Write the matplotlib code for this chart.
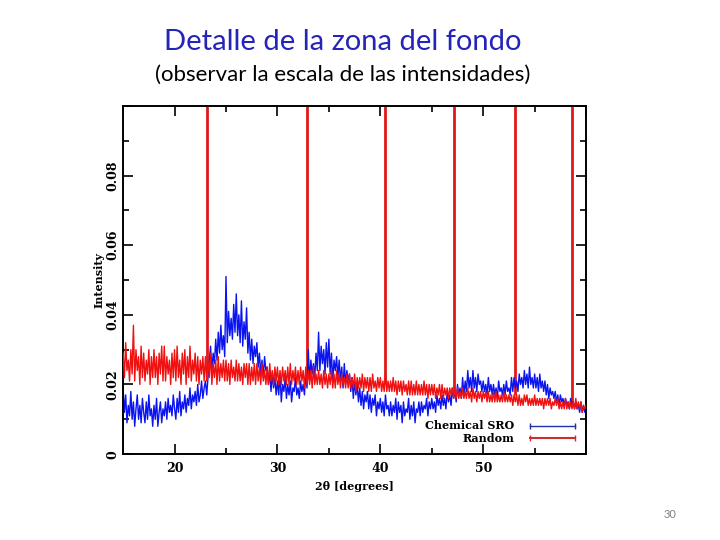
import numpy as np
import matplotlib

matplotlib.use("Agg")
import matplotlib.pyplot as plt
from matplotlib.lines import Line2D
from matplotlib.ticker import MultipleLocator

BLUE = "#0a14f0"
RED = "#f01010"
PEAK_RED = "#e01818"

# 2-theta grid, 0.125 degree steps from 15 to 60
two_theta = np.arange(15.0, 60.001, 0.125)

# intensities, in units of 1e-3 (8 values per degree)
chem_sro_milli = [
    19, 12, 17, 9, 14, 11, 18, 10,    # 15
    15, 8, 13, 17, 10, 14, 9, 16,     # 16
    12, 9, 15, 10, 17, 11, 13, 8,     # 17
    14, 10, 16, 8, 12, 15, 9, 13,     # 18
    11, 15, 10, 16, 12, 14, 11, 17,   # 19
    13, 10, 16, 12, 18, 11, 15, 13,   # 20
    17, 12, 16, 14, 19, 13, 17, 15,   # 21
    18, 14, 20, 15, 17, 21, 16, 19,   # 22
    21, 17, 22, 27, 31, 24, 29, 26,   # 23
    33, 27, 35, 29, 37, 30, 34, 28,   # 24
    51, 32, 41, 34, 39, 33, 43, 35,   # 25
    46, 34, 40, 32, 44, 31, 38, 33,   # 26
    42, 29, 35, 27, 33, 26, 31, 28,   # 27
    32, 25, 29, 23, 27, 22, 28, 24,   # 28
    25, 20, 24, 18, 23, 19, 22, 17,   # 29
    21, 17, 23, 15, 20, 18, 22, 16,   # 30
    20, 17, 21, 15, 19, 18, 22, 17,   # 31
    19, 16, 21, 18, 20, 17, 23, 19,   # 32
    30, 21, 27, 23, 26, 22, 29, 24,   # 33
    35, 24, 31, 26, 30, 23, 32, 25,   # 34
    33, 23, 29, 21, 27, 24, 28, 22,   # 35
    27, 21, 25, 19, 26, 20, 24, 21,   # 36
    23, 18, 22, 16, 21, 17, 20, 15,   # 37
    19, 14, 18, 13, 17, 15, 18, 13,   # 38
    17, 12, 16, 14, 17, 11, 15, 13,   # 39
    16, 12, 15, 11, 17, 13, 14, 11,   # 40
    15, 11, 14, 12, 16, 10, 15, 12,   # 41
    14, 9, 15, 11, 13, 12, 16, 10,    # 42
    14, 11, 15, 9, 13, 12, 15, 11,    # 43
    15, 12, 14, 13, 16, 11, 15, 13,   # 44
    16, 13, 15, 12, 17, 14, 16, 13,   # 45
    17, 14, 16, 13, 18, 15, 17, 14,   # 46
    19, 16, 18, 15, 20, 17, 19, 16,   # 47
    22, 17, 21, 18, 24, 19, 22, 18,   # 48
    24, 19, 22, 18, 23, 20, 21, 18,   # 49
    21, 18, 20, 17, 22, 18, 20, 17,   # 50
    20, 17, 19, 16, 21, 18, 19, 17,   # 51
    20, 17, 21, 18, 19, 17, 22, 18,   # 52
    22, 19, 21, 18, 23, 20, 22, 19,   # 53
    24, 20, 23, 19, 25, 20, 22, 19,   # 54
    23, 19, 22, 18, 23, 19, 21, 18,   # 55
    21, 17, 20, 16, 19, 17, 18, 16,   # 56
    18, 15, 17, 14, 17, 15, 16, 14,   # 57
    16, 14, 15, 13, 16, 14, 15, 13,   # 58
    15, 13, 14, 12, 15, 12, 14, 12,   # 59
    13,
]
random_milli = [
    29, 22, 32, 24, 27, 21, 30, 23,   # 15
    37, 21, 30, 24, 28, 20, 31, 22,   # 16
    29, 21, 27, 23, 30, 20, 28, 22,   # 17
    30, 22, 28, 20, 29, 23, 31, 21,   # 18
    31, 21, 28, 23, 27, 20, 29, 22,   # 19
    30, 21, 31, 22, 27, 20, 29, 23,   # 20
    30, 20, 28, 22, 31, 21, 27, 23,   # 21
    29, 21, 28, 20, 27, 23, 28, 21,   # 22
    28, 21, 27, 22, 29, 20, 26, 22,   # 23
    27, 20, 28, 21, 26, 22, 27, 21,   # 24
    27, 21, 26, 20, 27, 22, 25, 21,   # 25
    27, 21, 26, 21, 25, 20, 26, 22,   # 26
    26, 20, 26, 20, 25, 21, 26, 20,   # 27
    26, 21, 25, 20, 26, 21, 24, 20,   # 28
    25, 20, 26, 21, 24, 20, 25, 21,   # 29
    25, 20, 24, 20, 25, 21, 24, 20,   # 30
    25, 20, 26, 20, 24, 21, 25, 20,   # 31
    24, 20, 25, 21, 24, 19, 25, 20,   # 32
    24, 20, 24, 19, 25, 20, 23, 20,   # 33
    24, 20, 23, 19, 24, 20, 23, 19,   # 34
    23, 20, 24, 19, 23, 19, 24, 20,   # 35
    23, 19, 23, 20, 22, 19, 23, 19,   # 36
    23, 19, 22, 19, 23, 18, 22, 19,   # 37
    22, 19, 23, 18, 22, 19, 22, 18,   # 38
    22, 18, 23, 19, 21, 18, 22, 19,   # 39
    22, 18, 21, 18, 23, 18, 21, 18,   # 40
    21, 18, 22, 18, 21, 17, 21, 18,   # 41
    21, 17, 21, 18, 20, 17, 21, 17,   # 42
    21, 17, 20, 17, 21, 17, 20, 17,   # 43
    20, 17, 21, 17, 20, 16, 20, 17,   # 44
    20, 17, 20, 16, 19, 17, 20, 16,   # 45
    20, 16, 19, 17, 19, 16, 19, 17,   # 46
    19, 16, 19, 16, 19, 16, 18, 16,   # 47
    19, 16, 18, 16, 19, 16, 18, 15,   # 48
    19, 16, 18, 15, 18, 16, 18, 15,   # 49
    18, 16, 18, 15, 18, 15, 17, 15,   # 50
    18, 15, 18, 15, 17, 15, 17, 15,   # 51
    18, 15, 17, 15, 17, 15, 17, 14,   # 52
    17, 15, 17, 14, 17, 14, 16, 14,   # 53
    17, 15, 17, 14, 16, 14, 16, 14,   # 54
    17, 14, 16, 14, 16, 14, 16, 13,   # 55
    16, 14, 16, 14, 16, 13, 15, 14,   # 56
    16, 14, 16, 13, 15, 13, 15, 13,   # 57
    16, 13, 15, 13, 15, 13, 15, 13,   # 58
    16, 13, 15, 13, 15, 12, 14, 13,   # 59
    14,
]
chem_sro = np.array(chem_sro_milli) * 1e-3
random_int = np.array(random_milli) * 1e-3

# Bragg peaks of the random structure (they run off the top of the scale)
peak_pos = [23.15, 32.9, 40.5, 47.15, 53.05, 58.6]
peak_base = [0.024, 0.022, 0.020, 0.018, 0.017, 0.015]

fig = plt.figure(figsize=(7.2, 5.4), dpi=100)
fig.patch.set_facecolor("white")

fig.text(0.476, 0.922, "Detalle de la zona del fondo", ha="center", va="center",
         fontsize=21, color="#2424b8", family="Lato")
fig.text(0.476, 0.862, "(observar la escala de las intensidades)", ha="center", va="center",
         fontsize=16, color="black", family="Lato")
fig.text(0.930, 0.048, "30", ha="center", va="center", fontsize=8, color="#808080",
         family="Lato")

ax = fig.add_axes([0.171, 0.159, 0.643, 0.645])
ax.vlines(peak_pos, peak_base, 0.1, color=PEAK_RED, linewidth=2.0, zorder=1)
ax.plot(two_theta, chem_sro, color=BLUE, linewidth=1.0, zorder=2)
ax.plot(two_theta, random_int, color=RED, linewidth=1.0, zorder=3)

ax.set_xlim(15, 60)
ax.set_ylim(0, 0.1)
ax.xaxis.set_major_locator(MultipleLocator(10))
ax.xaxis.set_minor_locator(MultipleLocator(5))
ax.yaxis.set_major_locator(MultipleLocator(0.02))
ax.yaxis.set_minor_locator(MultipleLocator(0.01))
ax.xaxis.set_major_formatter(lambda v, pos: "" if v > 55 else f"{v:.0f}")
ax.yaxis.set_major_formatter(
    lambda v, pos: "0" if abs(v) < 1e-9 else ("" if v > 0.09 else f"{v:.2f}"))

tick_font = dict(family="DejaVu Serif", weight="bold", size=9)
ax.tick_params(which="both", direction="in", top=True, right=True, width=1.2)
ax.tick_params(which="major", length=7)
ax.tick_params(which="minor", length=4)
ax.tick_params(axis="x", pad=6)
ax.tick_params(axis="y", pad=3)
for lab in ax.get_xticklabels():
    lab.set(**tick_font)
for lab in ax.get_yticklabels():
    lab.set(**tick_font, rotation=90, va="center")
for side in ax.spines.values():
    side.set_linewidth(1.4)

label_font = dict(family="DejaVu Serif", weight="bold", size=8)
ax.set_xlabel("2θ [degrees]", fontdict=label_font, labelpad=4)
ax.set_ylabel("Intensity", fontdict=label_font, labelpad=1)

handles = [
    Line2D([0], [0], color="#2030a8", linewidth=1.0, marker="|", markersize=5, markeredgewidth=1.0),
    Line2D([0], [0], color="#c83030", linewidth=1.5, marker="|", markersize=5, markeredgewidth=1.0),
]
leg = ax.legend(handles, ["Chemical SRO", "Random"], loc="lower right",
                bbox_to_anchor=(1.004, 0.0), frameon=False, markerfirst=False,
                numpoints=2, handlelength=4.6, handletextpad=1.1, labelspacing=0.15,
                prop=dict(family="DejaVu Serif", weight="bold", size=8))

fig.savefig("out.png", dpi=100, facecolor="white")
